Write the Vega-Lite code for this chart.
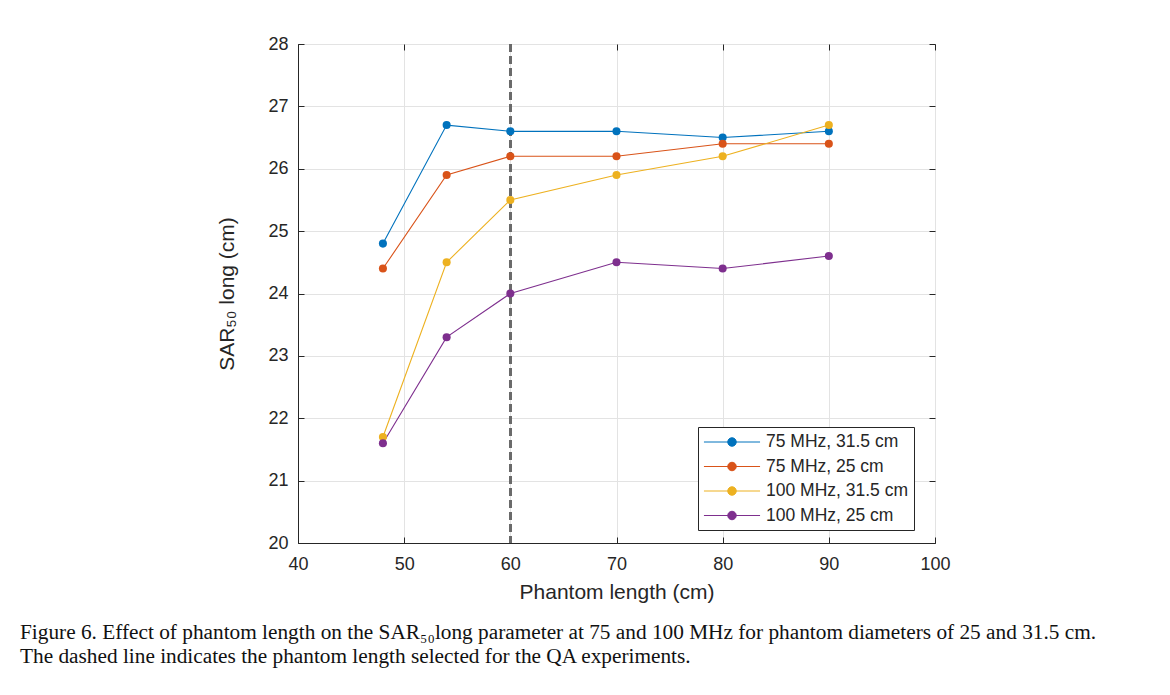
{
  "$schema": "https://vega.github.io/schema/vega-lite/v6.json",
  "autosize": {"type": "none"},
  "width": 637,
  "height": 499,
  "padding": {"left": 298, "top": 44, "right": 235, "bottom": 152},
  "background": "white",
  "config": {
    "font": "Liberation Sans",
    "view": {"stroke": "#262626", "strokeWidth": 1},
    "axis": {
      "domainColor": "#262626",
      "tickColor": "#262626",
      "labelColor": "#262626",
      "titleColor": "#262626",
      "labelFont": "Liberation Sans",
      "titleFont": "Liberation Sans",
      "labelFontSize": 18,
      "titleFontSize": 21,
      "titleFontWeight": "normal",
      "gridColor": "#e3e3e3",
      "gridWidth": 1,
      "tickSize": -6,
      "labelFlush": false,
      "domain": true
    }
  },
  "title": {
    "text": [
      "Figure 6. Effect of phantom length on the SAR₅₀long parameter at 75 and 100 MHz for phantom diameters of 25 and 31.5 cm.",
      "The dashed line indicates the phantom length selected for the QA experiments."
    ],
    "orient": "bottom",
    "anchor": "start",
    "frame": "group",
    "dx": -278,
    "offset": 20,
    "font": "Liberation Serif",
    "fontSize": 21.3,
    "fontWeight": "normal",
    "color": "#111111",
    "lineHeight": 24
  },
  "data": {
    "values": [
      {"length": 48, "sar": 24.8, "series": "75 MHz, 31.5 cm"},
      {"length": 54, "sar": 26.7, "series": "75 MHz, 31.5 cm"},
      {"length": 60, "sar": 26.6, "series": "75 MHz, 31.5 cm"},
      {"length": 70, "sar": 26.6, "series": "75 MHz, 31.5 cm"},
      {"length": 80, "sar": 26.5, "series": "75 MHz, 31.5 cm"},
      {"length": 90, "sar": 26.6, "series": "75 MHz, 31.5 cm"},
      {"length": 48, "sar": 24.4, "series": "75 MHz, 25 cm"},
      {"length": 54, "sar": 25.9, "series": "75 MHz, 25 cm"},
      {"length": 60, "sar": 26.2, "series": "75 MHz, 25 cm"},
      {"length": 70, "sar": 26.2, "series": "75 MHz, 25 cm"},
      {"length": 80, "sar": 26.4, "series": "75 MHz, 25 cm"},
      {"length": 90, "sar": 26.4, "series": "75 MHz, 25 cm"},
      {"length": 48, "sar": 21.7, "series": "100 MHz, 31.5 cm"},
      {"length": 54, "sar": 24.5, "series": "100 MHz, 31.5 cm"},
      {"length": 60, "sar": 25.5, "series": "100 MHz, 31.5 cm"},
      {"length": 70, "sar": 25.9, "series": "100 MHz, 31.5 cm"},
      {"length": 80, "sar": 26.2, "series": "100 MHz, 31.5 cm"},
      {"length": 90, "sar": 26.7, "series": "100 MHz, 31.5 cm"},
      {"length": 48, "sar": 21.6, "series": "100 MHz, 25 cm"},
      {"length": 54, "sar": 23.3, "series": "100 MHz, 25 cm"},
      {"length": 60, "sar": 24.0, "series": "100 MHz, 25 cm"},
      {"length": 70, "sar": 24.5, "series": "100 MHz, 25 cm"},
      {"length": 80, "sar": 24.4, "series": "100 MHz, 25 cm"},
      {"length": 90, "sar": 24.6, "series": "100 MHz, 25 cm"}
    ]
  },
  "layer": [
    {
      "mark": {"type": "line", "strokeWidth": 1.1},
      "encoding": {
        "x": {
          "field": "length",
          "type": "quantitative",
          "scale": {"domain": [40, 100], "nice": false, "zero": false},
          "axis": {"orient": "bottom", "title": "Phantom length (cm)", "values": [40, 50, 60, 70, 80, 90, 100], "labelPadding": 18, "titlePadding": 8, "grid": true}
        },
        "y": {
          "field": "sar",
          "type": "quantitative",
          "scale": {"domain": [20, 28], "nice": false, "zero": false},
          "axis": {"orient": "left", "title": "SAR₅₀ long (cm)", "values": [20, 21, 22, 23, 24, 25, 26, 27, 28], "labelPadding": 16, "titlePadding": 30, "grid": true}
        },
        "color": {
          "field": "series",
          "type": "nominal",
          "sort": ["75 MHz, 31.5 cm", "75 MHz, 25 cm", "100 MHz, 31.5 cm", "100 MHz, 25 cm"],
          "scale": {
            "domain": ["75 MHz, 31.5 cm", "75 MHz, 25 cm", "100 MHz, 31.5 cm", "100 MHz, 25 cm"],
            "range": ["#0072BD", "#D95319", "#EDB120", "#7E2F8E"]
          },
          "legend": {
            "title": null,
            "orient": "none",
            "legendX": 400,
            "legendY": 383,
            "direction": "vertical",
            "fillColor": "white",
            "strokeColor": "#262626",
            "padding": 6,
            "rowPadding": 6.5,
            "labelFont": "Liberation Sans",
            "labelFontSize": 17.5,
            "labelColor": "#262626",
            "labelOffset": 25,
            "symbolOffset": 19,
            "symbolSize": 289,
            "symbolType": "M-3.3,0L3.3,0M-0.5,0A0.5,0.5,0,1,0,0.5,0A0.5,0.5,0,1,0,-0.5,0Z",
            "symbolStrokeWidth": 1,
            "symbolOpacity": 1,
            "encode": {
              "symbols": {
                "update": {
                  "fill": {"scale": "color", "field": "value"},
                  "stroke": {"scale": "color", "field": "value"},
                  "strokeWidth": {"value": 1}
                }
              }
            }
          }
        }
      }
    },
    {
      "mark": {"type": "rule", "color": "#6a6a6a", "strokeDash": [8, 4], "strokeWidth": 1.6},
      "encoding": {"x": {"datum": 60, "type": "quantitative", "axis": null}}
    },
    {
      "mark": {"type": "point", "filled": true, "size": 65, "opacity": 1},
      "encoding": {
        "x": {"field": "length", "type": "quantitative", "axis": null},
        "y": {"field": "sar", "type": "quantitative", "axis": null},
        "color": {"field": "series", "type": "nominal", "sort": ["75 MHz, 31.5 cm", "75 MHz, 25 cm", "100 MHz, 31.5 cm", "100 MHz, 25 cm"], "legend": null}
      }
    },
    {
      "mark": {"type": "point", "opacity": 0},
      "encoding": {
        "x": {"field": "length", "type": "quantitative", "axis": {"orient": "top", "labels": false, "title": null, "grid": false, "domain": false, "values": [40, 50, 60, 70, 80, 90, 100]}},
        "y": {"field": "sar", "type": "quantitative", "axis": {"orient": "right", "labels": false, "title": null, "grid": false, "domain": false, "values": [20, 21, 22, 23, 24, 25, 26, 27, 28]}}
      }
    }
  ],
  "resolve": {"axis": {"x": "independent", "y": "independent"}}
}
